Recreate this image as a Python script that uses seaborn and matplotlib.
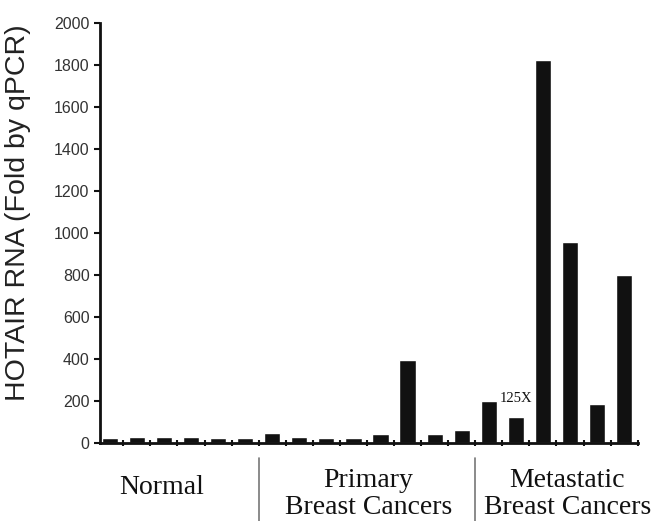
import matplotlib
matplotlib.use("Agg")
import matplotlib.pyplot as plt
import seaborn as sns
import pandas as pd

normal = [26, 28, 28, 28, 26, 26]
primary = [48, 27, 22, 22, 44, 395, 44, 62]
metastatic = [200, 125, 1825, 958, 185, 800]
groups = ["Normal", "Primary\nBreast Cancers", "Metastatic\nBreast Cancers"]
y_ticks = [0, 200, 400, 600, 800, 1000, 1200, 1400, 1600, 1800, 2000]
annotation = "125X"

values = normal + primary + metastatic
samples = [f"S{i+1}" for i in range(len(values))]
df = pd.DataFrame({"sample": samples, "value": values})

sns.set_style("ticks")
fig = plt.figure(figsize=(6.59, 5.21), dpi=100)
ax = fig.add_axes([100/659, 1-443/521, (637.7-100)/659, (443-23)/521])
sns.barplot(data=df, x="sample", y="value", color="#111111", width=0.6,
            saturation=1, ax=ax, order=samples)

ax.set_xlim(-0.36, len(values) - 0.5)
ax.set_ylim(0, 2000)
ax.set_yticks(y_ticks)
ax.set_yticklabels([str(t) for t in y_ticks], family="Liberation Sans",
                   fontsize=11.5, color="#333333")
ax.set_xticks([i + 0.5 for i in range(len(values))])
ax.set_xticklabels([])
ax.tick_params(axis="x", direction="inout", length=5, width=1.5, color="#111111")
ax.tick_params(axis="y", direction="out", length=4, width=1.5, color="#111111")
for s in ["top", "right"]:
    ax.spines[s].set_visible(False)
for s in ["left", "bottom"]:
    ax.spines[s].set_linewidth(2)
    ax.spines[s].set_color("#111111")
ax.set_xlabel("")
ax.set_ylabel("HOTAIR RNA (Fold by qPCR)", family="Liberation Sans",
              fontsize=20.5, color="#222222")
ax.yaxis.set_label_coords(-0.128, 0.548)

# annotation above the 125X bar
idx = len(normal) + len(primary) + 1
ax.text(idx, 180, annotation, family="Liberation Serif", fontsize=10.5,
        ha="center", va="bottom", color="#111111")

# group labels and dividers below axis
trans = ax.get_xaxis_transform()
n1 = len(normal)
n2 = len(normal) + len(primary)
for xd in [n1 - 0.5, n2 - 0.5]:
    ax.plot([xd, xd], [-0.035, -0.2], transform=trans, color="#777777",
            lw=1.2, clip_on=False)
ax.text(1.9, -0.105, groups[0], transform=trans, family="Liberation Serif",
        fontsize=20, ha="center", va="center", color="#111111")
ax.text(9.55, -0.122, groups[1], transform=trans, family="Liberation Serif",
        fontsize=20, ha="center", va="center", color="#111111", linespacing=1.1)
ax.text(16.9, -0.122, groups[2], transform=trans, family="Liberation Serif",
        fontsize=20, ha="center", va="center", color="#111111", linespacing=1.1)

fig.savefig("out.png", dpi=100)
